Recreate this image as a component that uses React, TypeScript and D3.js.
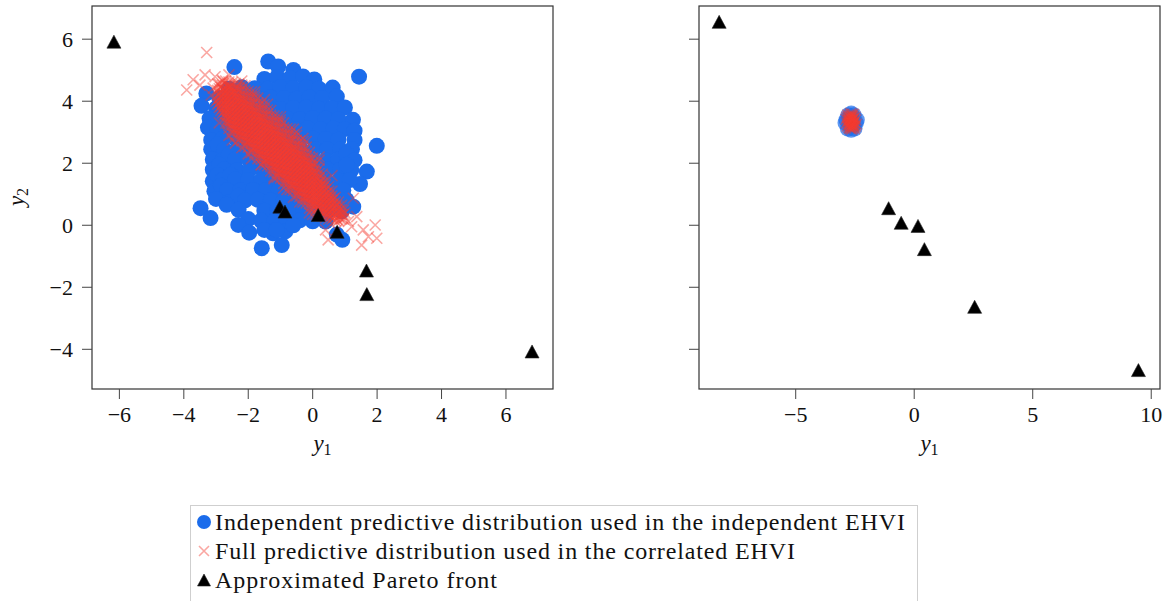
import React from 'react';
import * as d3 from 'd3';

// ---------- data ----------
const leftXTicks = [-6, -4, -2, 0, 2, 4, 6];
const rightXTicks = [-5, 0, 5, 10];
const yTicks = [-4, -2, 0, 2, 4, 6];
const leftXDomain = [-6.85, 7.46];
const rightXDomain = [-9.08, 10.37];
const yDomain = [-5.28, 7.07];

const paretoLeft: [number, number][] = [
  [-6.17, 5.92], [-1.02, 0.6], [-0.86, 0.44], [0.17, 0.33], [0.76, -0.21],
  [1.67, -1.46], [1.68, -2.22], [6.81, -4.07],
];
const paretoRight: [number, number][] = [
  [-8.23, 6.56], [-1.08, 0.55], [-0.55, 0.08], [0.16, -0.02], [0.43, -0.77],
  [2.55, -2.63], [9.46, -4.67],
];

const blueLeft: [number, number][] = [
  [-2.43, 5.1], [-1.38, 5.28], [-1.07, 5.12], [-0.6, 5.01], [1.44, 4.79], [-0.19, 4.6],
  [-1.5, 4.72], [-1.1, 4.78], [-0.7, 4.74], [-0.3, 4.8], [0.05, 4.7],
  [-2.6, 4.4], [-2.2, 4.45], [-1.8, 4.42], [-1.4, 4.4], [-1.0, 4.46], [-0.6, 4.42], [-0.2, 4.45], [0.2, 4.4], [0.62, 4.44],
  [-3.3, 4.25], [-2.9, 4.1], [-2.5, 4.12], [-2.1, 4.08], [-1.7, 4.1], [-1.3, 4.12], [-0.9, 4.1], [-0.5, 4.08], [-0.1, 4.12], [0.3, 4.1], [0.75, 4.15],
  [-3.45, 3.85], [-3.0, 3.77], [-2.6, 3.8], [-2.2, 3.76], [-1.8, 3.78], [-1.4, 3.8], [-1.0, 3.75], [-0.6, 3.78], [-0.2, 3.8], [0.2, 3.76], [0.6, 3.78], [1.0, 3.8],
  [-3.2, 3.44], [-2.8, 3.42], [-2.4, 3.45], [-2.0, 3.44], [-1.6, 3.42], [-1.2, 3.46], [-0.8, 3.44], [-0.4, 3.42], [0.0, 3.45], [0.4, 3.44], [0.8, 3.42], [1.25, 3.4],
  [-3.25, 3.15], [-2.95, 3.1], [-2.55, 3.12], [-2.15, 3.1], [-1.75, 3.12], [-1.35, 3.1], [-0.95, 3.12], [-0.55, 3.1], [-0.15, 3.12], [0.25, 3.1], [0.65, 3.12], [1.0, 3.1], [1.3, 3.05],
  [-3.15, 2.75], [-2.8, 2.78], [-2.4, 2.8], [-2.0, 2.78], [-1.6, 2.76], [-1.2, 2.8], [-0.8, 2.78], [-0.4, 2.76], [0.0, 2.8], [0.4, 2.78], [0.8, 2.76], [1.3, 2.75],
  [-3.15, 2.45], [-2.95, 2.6], [-2.75, 2.44], [-2.35, 2.46], [-1.95, 2.45], [-1.55, 2.44], [-1.15, 2.46], [-0.75, 2.45], [-0.35, 2.44], [0.05, 2.46], [0.45, 2.45], [0.85, 2.44], [1.22, 2.45],
  [-3.1, 2.12], [-2.8, 2.1], [-2.6, 2.28], [-2.4, 2.12], [-2.0, 2.14], [-1.6, 2.12], [-1.2, 2.1], [-0.8, 2.12], [-0.4, 2.14], [0.0, 2.12], [0.4, 2.1], [0.8, 2.12], [1.05, 2.3], [1.3, 2.1],
  [-3.1, 1.79], [-2.9, 1.95], [-2.75, 1.8], [-2.35, 1.78], [-1.95, 1.8], [-1.55, 1.79], [-1.15, 1.78], [-0.75, 1.8], [-0.35, 1.79], [0.05, 1.78], [0.45, 1.8], [0.85, 1.79], [1.2, 1.78], [1.05, 1.95],
  [1.68, 1.73], [1.99, 2.56], [1.47, 1.33],
  [-3.1, 1.42], [-2.95, 1.62], [-2.8, 1.46], [-2.55, 1.62], [-2.4, 1.48], [-2.0, 1.46], [-1.6, 1.45], [-1.2, 1.47], [-0.8, 1.46], [-0.4, 1.45], [0.0, 1.47], [0.4, 1.46], [0.8, 1.45], [1.15, 1.46],
  [-3.05, 1.1], [-2.85, 1.27], [-2.65, 1.13], [-2.25, 1.12], [-1.85, 1.14], [-1.45, 1.13], [-1.05, 1.12], [-0.65, 1.14], [-0.25, 1.13], [0.15, 1.12], [0.55, 1.14], [0.95, 1.13],
  [-3.0, 0.85], [-2.6, 0.75], [-2.3, 0.95], [-2.1, 0.8], [-1.7, 0.82], [-1.3, 0.8], [-0.9, 0.79], [-0.5, 0.81], [-0.1, 0.8], [0.3, 0.78], [0.7, 0.8], [1.05, 0.82],
  [-2.67, 0.66], [-2.3, 0.5], [-1.5, 0.47], [-1.1, 0.46], [-0.7, 0.48], [-0.3, 0.47], [0.1, 0.46], [0.5, 0.48], [0.9, 0.45], [1.26, 0.6],
  [-2.0, 0.2], [-1.6, 0.15], [-1.2, 0.12], [-0.8, 0.14], [-0.4, 0.16], [0.0, 0.13], [0.4, 0.12],
  [-1.23, -0.26], [-0.85, -0.2], [-0.6, 0.0],
  [-3.48, 0.55], [-3.17, 0.23], [-2.31, 0.01], [-1.97, -0.24], [-1.58, -0.74], [-0.96, -0.64],
  [0.92, -0.47], [-1.5, -0.15], [-1.12, -0.15], [0.75, -0.3],
];

// correlated samples, listed column by column: [y1, [y2 values]]
const redWideColumns: [number, number[]][] = [
  [-2.9, [3.8, 3.95, 4.1, 4.25, 4.4, 4.55]],
  [-2.8, [3.62, 3.77, 3.92, 4.07, 4.22, 4.37, 4.52, 4.67]],
  [-2.7, [3.3, 3.45, 3.6, 3.75, 3.9, 4.05, 4.2, 4.35, 4.5, 4.65]],
  [-2.6, [3.12, 3.27, 3.42, 3.57, 3.72, 3.87, 4.02, 4.17, 4.32, 4.47, 4.62]],
  [-2.5, [2.95, 3.1, 3.25, 3.4, 3.55, 3.7, 3.85, 4.0, 4.15, 4.3, 4.45, 4.6]],
  [-2.4, [2.92, 3.07, 3.22, 3.37, 3.52, 3.67, 3.82, 3.97, 4.12, 4.27, 4.42, 4.57]],
  [-2.3, [2.75, 2.9, 3.05, 3.2, 3.35, 3.5, 3.65, 3.8, 3.95, 4.1, 4.25, 4.4, 4.55]],
  [-2.2, [2.72, 2.87, 3.02, 3.17, 3.32, 3.47, 3.62, 3.77, 3.92, 4.07, 4.22, 4.37, 4.52]],
  [-2.1, [2.55, 2.7, 2.85, 3.0, 3.15, 3.3, 3.45, 3.6, 3.75, 3.9, 4.05, 4.2, 4.35, 4.5]],
  [-2.0, [2.52, 2.67, 2.82, 2.97, 3.12, 3.27, 3.42, 3.57, 3.72, 3.87, 4.02, 4.17, 4.32]],
  [-1.9, [2.35, 2.5, 2.65, 2.8, 2.95, 3.1, 3.25, 3.4, 3.55, 3.7, 3.85, 4.0, 4.15, 4.3]],
  [-1.8, [2.32, 2.47, 2.62, 2.77, 2.92, 3.07, 3.22, 3.37, 3.52, 3.67, 3.82, 3.97, 4.12]],
  [-1.7, [2.15, 2.3, 2.45, 2.6, 2.75, 2.9, 3.05, 3.2, 3.35, 3.5, 3.65, 3.8, 3.95, 4.1]],
  [-1.6, [2.12, 2.27, 2.42, 2.57, 2.72, 2.87, 3.02, 3.17, 3.32, 3.47, 3.62, 3.77, 3.92]],
  [-1.5, [1.95, 2.1, 2.25, 2.4, 2.55, 2.7, 2.85, 3.0, 3.15, 3.3, 3.45, 3.6, 3.75, 3.9]],
  [-1.4, [1.92, 2.07, 2.22, 2.37, 2.52, 2.67, 2.82, 2.97, 3.12, 3.27, 3.42, 3.57, 3.72]],
  [-1.3, [1.75, 1.9, 2.05, 2.2, 2.35, 2.5, 2.65, 2.8, 2.95, 3.1, 3.25, 3.4, 3.55, 3.7]],
  [-1.2, [1.72, 1.87, 2.02, 2.17, 2.32, 2.47, 2.62, 2.77, 2.92, 3.07, 3.22, 3.37, 3.52]],
  [-1.1, [1.55, 1.7, 1.85, 2.0, 2.15, 2.3, 2.45, 2.6, 2.75, 2.9, 3.05, 3.2, 3.35, 3.5]],
  [-1.0, [1.52, 1.67, 1.82, 1.97, 2.12, 2.27, 2.42, 2.57, 2.72, 2.87, 3.02, 3.17, 3.32]],
  [-0.9, [1.35, 1.5, 1.65, 1.8, 1.95, 2.1, 2.25, 2.4, 2.55, 2.7, 2.85, 3.0, 3.15, 3.3]],
  [-0.8, [1.32, 1.47, 1.62, 1.77, 1.92, 2.07, 2.22, 2.37, 2.52, 2.67, 2.82, 2.97, 3.12]],
  [-0.7, [1.15, 1.3, 1.45, 1.6, 1.75, 1.9, 2.05, 2.2, 2.35, 2.5, 2.65, 2.8, 2.95, 3.1]],
  [-0.6, [1.12, 1.27, 1.42, 1.57, 1.72, 1.87, 2.02, 2.17, 2.32, 2.47, 2.62, 2.77, 2.92]],
  [-0.5, [0.95, 1.1, 1.25, 1.4, 1.55, 1.7, 1.85, 2.0, 2.15, 2.3, 2.45, 2.6, 2.75, 2.9]],
  [-0.4, [0.92, 1.07, 1.22, 1.37, 1.52, 1.67, 1.82, 1.97, 2.12, 2.27, 2.42, 2.57, 2.72]],
  [-0.3, [0.75, 0.9, 1.05, 1.2, 1.35, 1.5, 1.65, 1.8, 1.95, 2.1, 2.25, 2.4, 2.55, 2.7]],
  [-0.2, [0.72, 0.87, 1.02, 1.17, 1.32, 1.47, 1.62, 1.77, 1.92, 2.07, 2.22, 2.37, 2.52]],
  [-0.1, [0.55, 0.7, 0.85, 1.0, 1.15, 1.3, 1.45, 1.6, 1.75, 1.9, 2.05, 2.2, 2.35]],
  [0.0, [0.52, 0.67, 0.82, 0.97, 1.12, 1.27, 1.42, 1.57, 1.72, 1.87, 2.02, 2.17]],
  [0.1, [0.35, 0.5, 0.65, 0.8, 0.95, 1.1, 1.25, 1.4, 1.55, 1.7, 1.85, 2.0]],
  [0.2, [0.32, 0.47, 0.62, 0.77, 0.92, 1.07, 1.22, 1.37, 1.52, 1.67, 1.82]],
  [0.3, [0.3, 0.45, 0.6, 0.75, 0.9, 1.05, 1.2, 1.35, 1.5, 1.65]],
  [0.4, [0.25, 0.4, 0.55, 0.7, 0.85, 1.0, 1.15, 1.3, 1.45]],
  [0.5, [0.2, 0.35, 0.5, 0.65, 0.8, 0.95, 1.1, 1.25]],
  [0.6, [0.2, 0.35, 0.5, 0.65, 0.8, 0.95, 1.1]],
  [0.7, [0.15, 0.3, 0.45, 0.6, 0.75, 0.9]],
  [0.8, [0.15, 0.3, 0.45, 0.6, 0.75]],
  [0.9, [0.2, 0.35, 0.5, 0.65]],
  [1.0, [0.25, 0.4]],
];

const redCoreColumns: [number, number[]][] = [
  [-2.95, [3.9, 4.05, 4.2, 4.35]],
  [-2.85, [3.7, 3.85, 4.0, 4.15, 4.3, 4.45]],
  [-2.75, [3.55, 3.68, 3.82, 3.95, 4.08, 4.22, 4.36]],
  [-2.65, [3.28, 3.42, 3.57, 3.7, 3.83, 3.96, 4.09, 4.23, 4.37, 4.5]],
  [-2.55, [3.25, 3.39, 3.53, 3.67, 3.8, 3.93, 4.06, 4.2, 4.34, 4.48]],
  [-2.45, [3.08, 3.22, 3.37, 3.5, 3.63, 3.76, 3.89, 4.03, 4.17, 4.3]],
  [-2.35, [3.05, 3.19, 3.33, 3.47, 3.6, 3.73, 3.86, 4.0, 4.14, 4.28]],
  [-2.25, [2.88, 3.02, 3.17, 3.3, 3.43, 3.56, 3.69, 3.83, 3.97, 4.1]],
  [-2.15, [2.85, 2.99, 3.13, 3.27, 3.4, 3.53, 3.66, 3.8, 3.94, 4.08]],
  [-2.05, [2.68, 2.82, 2.97, 3.1, 3.23, 3.36, 3.49, 3.63, 3.77, 3.9]],
  [-1.95, [2.65, 2.79, 2.93, 3.07, 3.2, 3.33, 3.46, 3.6, 3.74, 3.88]],
  [-1.85, [2.48, 2.62, 2.77, 2.9, 3.03, 3.16, 3.29, 3.43, 3.57, 3.7]],
  [-1.75, [2.45, 2.59, 2.73, 2.87, 3.0, 3.13, 3.26, 3.4, 3.54, 3.68]],
  [-1.65, [2.28, 2.42, 2.57, 2.7, 2.83, 2.96, 3.09, 3.23, 3.37, 3.5]],
  [-1.55, [2.25, 2.39, 2.53, 2.67, 2.8, 2.93, 3.06, 3.2, 3.34, 3.48]],
  [-1.45, [2.08, 2.22, 2.37, 2.5, 2.63, 2.76, 2.89, 3.03, 3.17, 3.3]],
  [-1.35, [2.05, 2.19, 2.33, 2.47, 2.6, 2.73, 2.86, 3.0, 3.14, 3.28]],
  [-1.25, [1.88, 2.02, 2.17, 2.3, 2.43, 2.56, 2.69, 2.83, 2.97, 3.1]],
  [-1.15, [1.85, 1.99, 2.13, 2.27, 2.4, 2.53, 2.66, 2.8, 2.94, 3.08]],
  [-1.05, [1.68, 1.82, 1.97, 2.1, 2.23, 2.36, 2.49, 2.63, 2.77, 2.9]],
  [-0.95, [1.65, 1.79, 1.93, 2.07, 2.2, 2.33, 2.46, 2.6, 2.74, 2.88]],
  [-0.85, [1.48, 1.62, 1.77, 1.9, 2.03, 2.16, 2.29, 2.43, 2.57, 2.7]],
  [-0.75, [1.45, 1.59, 1.73, 1.87, 2.0, 2.13, 2.26, 2.4, 2.54, 2.68]],
  [-0.65, [1.28, 1.42, 1.57, 1.7, 1.83, 1.96, 2.09, 2.23, 2.37, 2.5]],
  [-0.55, [1.25, 1.39, 1.53, 1.67, 1.8, 1.93, 2.06, 2.2, 2.34, 2.48]],
  [-0.45, [1.08, 1.22, 1.37, 1.5, 1.63, 1.76, 1.89, 2.03, 2.17, 2.3]],
  [-0.35, [1.05, 1.19, 1.33, 1.47, 1.6, 1.73, 1.86, 2.0, 2.14, 2.28]],
  [-0.25, [0.88, 1.02, 1.17, 1.3, 1.43, 1.56, 1.69, 1.83, 1.97, 2.1]],
  [-0.15, [0.85, 0.99, 1.13, 1.27, 1.4, 1.53, 1.66, 1.8, 1.94, 2.08]],
  [-0.05, [0.68, 0.82, 0.97, 1.1, 1.23, 1.36, 1.49, 1.63, 1.77, 1.9]],
  [0.05, [0.65, 0.79, 0.93, 1.07, 1.2, 1.33, 1.46, 1.6, 1.74]],
  [0.15, [0.55, 0.7, 0.83, 0.96, 1.09, 1.22, 1.36, 1.5]],
  [0.25, [0.45, 0.59, 0.73, 0.87, 1.0, 1.13, 1.26, 1.4]],
  [0.35, [0.4, 0.55, 0.7, 0.83, 0.96, 1.1, 1.25]],
  [0.45, [0.35, 0.5, 0.63, 0.76, 0.9, 1.05]],
  [0.55, [0.3, 0.45, 0.6, 0.75, 0.9]],
  [0.65, [0.25, 0.4, 0.55, 0.7, 0.85]],
  [0.75, [0.2, 0.35, 0.5, 0.65]],
  [0.85, [0.2, 0.35, 0.5]],
  [0.95, [0.2, 0.35]],
];

const redScatter: [number, number][] = [
  // sparse samples just outside the band
  [-2.6, 4.85], [-2.4, 2.65], [-2.2, 4.65], [-2.0, 2.3], [-1.8, 4.3], [-1.6, 1.95],
  [-1.4, 3.9], [-1.2, 1.55], [-1.0, 3.5], [-0.8, 1.15], [-0.6, 3.1], [-0.4, 0.75],
  [-0.2, 2.7], [0.0, 0.35], [0.2, 2.1], [0.4, -0.15], [-2.5, 2.75], [-1.9, 2.15],
  [-1.5, 4.05], [-0.9, 1.2], [-0.5, 3.0], [-0.1, 0.4],
  // halo / scattered samples
  [-3.29, 5.57], [-3.91, 4.36], [-3.71, 4.69], [-3.34, 4.85], [-3.03, 4.79], [-2.78, 4.63],
  [-3.5, 4.52], [-3.09, 4.42], [-2.57, 4.47], [-2.36, 4.42], [-3.0, 4.0], [-3.15, 4.2],
  [-2.95, 4.55], [-2.9, 3.3], [-2.6, 2.9], [-2.2, 2.5], [-1.8, 4.2], [-1.0, 3.4],
  [-0.3, 2.8], [0.2, 2.2], [0.6, 1.6], [-1.2, 1.5], [-0.6, 0.9], [-1.6, 1.95],
  [1.26, 0.87], [0.95, 0.49], [1.21, -0.05], [1.57, -0.15], [1.94, 0.01], [1.73, -0.37],
  [1.99, -0.42], [1.52, -0.64], [0.48, -0.47], [1.11, 0.12], [0.75, -0.15], [1.37, 0.28],
];

const blueRight: [number, number][] = [
  [-2.66, 3.34], [-2.86, 3.4], [-2.46, 3.3], [-2.78, 3.55], [-2.55, 3.55], [-2.8, 3.12],
  [-2.52, 3.12], [-2.9, 3.3], [-2.42, 3.4], [-2.66, 3.6], [-2.66, 3.08], [-2.7, 3.45], [-2.6, 3.22],
];
const redRight: [number, number][] = [
  [-2.66, 3.34], [-2.75, 3.45], [-2.57, 3.23], [-2.8, 3.55], [-2.52, 3.12], [-2.85, 3.3],
  [-2.47, 3.4], [-2.7, 3.2], [-2.62, 3.5], [-2.75, 3.15], [-2.56, 3.58], [-2.88, 3.42],
  [-2.44, 3.26], [-2.68, 3.6], [-2.64, 3.1], [-2.82, 3.2], [-2.5, 3.48], [-2.6, 3.36],
  [-2.72, 3.3], [-2.58, 3.42], [-2.7, 3.38], [-2.62, 3.28], [-2.77, 3.5], [-2.54, 3.18],
  [-2.66, 3.44], [-2.66, 3.24], [-2.8, 3.36], [-2.52, 3.32], [-2.74, 3.24], [-2.58, 3.5],
  [-2.84, 3.48], [-2.48, 3.2], [-2.7, 3.54], [-2.6, 3.14], [-2.63, 3.4], [-2.69, 3.28],
  [-2.78, 3.4], [-2.55, 3.3], [-2.67, 3.16], [-2.65, 3.52], [-2.73, 3.36], [-2.59, 3.26],
  [-2.76, 3.28], [-2.56, 3.44], [-2.69, 3.47], [-2.61, 3.21], [-2.71, 3.12], [-2.62, 3.58],
];

const legendLabels = [
  'Independent predictive distribution used in the independent EHVI',
  'Full predictive distribution used in the correlated EHVI',
  'Approximated Pareto front',
];
const legendWidths = [690, 580, 282];

// ---------- style ----------
const BLUE = '#1b6ceb';
const RED = '#f53c30';
const FONT = '"Liberation Serif", "DejaVu Serif", "Times New Roman", serif';
const TOP = 6;
const BOTTOM = 389;
const textStyle = { fontFamily: FONT } as React.CSSProperties;

const columnsToPoints = (cols: [number, number[]][]) =>
  cols.flatMap(([xv, ys]) => ys.map((yv) => [xv, yv] as [number, number]));

const redLeft: [number, number][] = [
  ...columnsToPoints(redWideColumns),
  ...columnsToPoints(redCoreColumns),
  ...redScatter,
];

const fmt = (n: number) => (n < 0 ? '\u2212' + Math.abs(n) : String(n));
const tri = 'M0,-6.5L7,6.5L-7,6.5Z';
const cross = (s: number) => `M${-s},${-s}L${s},${s}M${-s},${s}L${s},${-s}`;

type PanelProps = {
  id: string;
  x0: number;
  x1: number;
  xDomain: number[];
  xTicks: number[];
  blue: [number, number][];
  red: [number, number][];
  pareto: [number, number][];
  showYLabels: boolean;
  blueOpacity: number;
};

const yScale = d3.scaleLinear().domain(yDomain).range([BOTTOM, TOP]);

function Panel(p: PanelProps) {
  const x = d3.scaleLinear().domain(p.xDomain).range([p.x0, p.x1]);
  const cx = (p.x0 + p.x1) / 2;
  return (
    <g>
      <defs>
        <clipPath id={p.id}>
          <rect x={p.x0} y={TOP} width={p.x1 - p.x0} height={BOTTOM - TOP} />
        </clipPath>
      </defs>
      <g clipPath={`url(#${p.id})`}>
        {p.blue.map((d, i) => (
          <circle key={'b' + i} cx={x(d[0])} cy={yScale(d[1])} r={8} fill={BLUE} fillOpacity={p.blueOpacity} />
        ))}
        {p.red.map((d, i) => (
          <path key={'r' + i} d={cross(5.5)} transform={`translate(${x(d[0])},${yScale(d[1])})`}
            stroke={RED} strokeOpacity={0.45} strokeWidth={1.6} fill="none" />
        ))}
        {p.pareto.map((d, i) => (
          <path key={'p' + i} d={tri} transform={`translate(${x(d[0])},${yScale(d[1])})`}
            fill="#000" stroke="#222" strokeWidth={0.6} />
        ))}
      </g>
      <rect x={p.x0} y={TOP} width={p.x1 - p.x0} height={BOTTOM - TOP} fill="none" stroke="#333" strokeWidth={1.2} />
      {p.xTicks.map((t) => (
        <g key={'xt' + t}>
          <line x1={x(t)} x2={x(t)} y1={BOTTOM} y2={BOTTOM + 10} stroke="#444" strokeWidth={1} />
          <text x={x(t)} y={422} textAnchor="middle" style={textStyle} fontSize={22} fill="#111">{fmt(t)}</text>
        </g>
      ))}
      {yTicks.map((t) => (
        <g key={'yt' + t}>
          <line x1={p.x0 - 10} x2={p.x0} y1={yScale(t)} y2={yScale(t)} stroke="#444" strokeWidth={1} />
          {p.showYLabels && (
            <text x={p.x0 - 19} y={yScale(t) + 7.5} textAnchor="end" style={textStyle} fontSize={22} fill="#111">{fmt(t)}</text>
          )}
        </g>
      ))}
      <text x={cx} y={451} textAnchor="middle" style={textStyle} fontSize={23} fill="#111">
        <tspan fontStyle="italic">y</tspan>
        <tspan fontSize={16} dy={4}>1</tspan>
      </text>
    </g>
  );
}

export default function App() {
  return (
    <svg width={1170} height={601} style={{ position: 'absolute', left: 0, top: 0, background: '#fff' }}>
      <rect x={0} y={0} width={1170} height={601} fill="#fff" />
      <Panel id="clipL" x0={92} x1={553} xDomain={leftXDomain} xTicks={leftXTicks}
        blue={blueLeft} red={redLeft} pareto={paretoLeft} showYLabels={true} blueOpacity={1} />
      <Panel id="clipR" x0={699} x1={1160} xDomain={rightXDomain} xTicks={rightXTicks}
        blue={blueRight} red={redRight} pareto={paretoRight} showYLabels={false} blueOpacity={0.7} />
      <text transform="translate(24,197) rotate(-90)" textAnchor="middle" style={textStyle} fontSize={23} fill="#111">
        <tspan fontStyle="italic">y</tspan>
        <tspan fontSize={16} dy={4}>2</tspan>
      </text>
      <rect x={190.5} y={505.5} width={727} height={110} fill="#fff" stroke="#cfcfcf" strokeWidth={1} />
      <circle cx={204} cy={522} r={7} fill={BLUE} />
      <path d={cross(5)} transform="translate(204,551)" stroke={RED} strokeOpacity={0.45} strokeWidth={1.6} fill="none" />
      <path d="M0,-6L6.5,6L-6.5,6Z" transform="translate(204,580)" fill="#000" stroke="#222" strokeWidth={0.6} />
      {legendLabels.map((l, i) => (
        <text key={l} x={215} y={530 + i * 29} style={textStyle} fontSize={24} fill="#111"
          textLength={legendWidths[i]} lengthAdjust="spacing">{l}</text>
      ))}
    </svg>
  );
}
